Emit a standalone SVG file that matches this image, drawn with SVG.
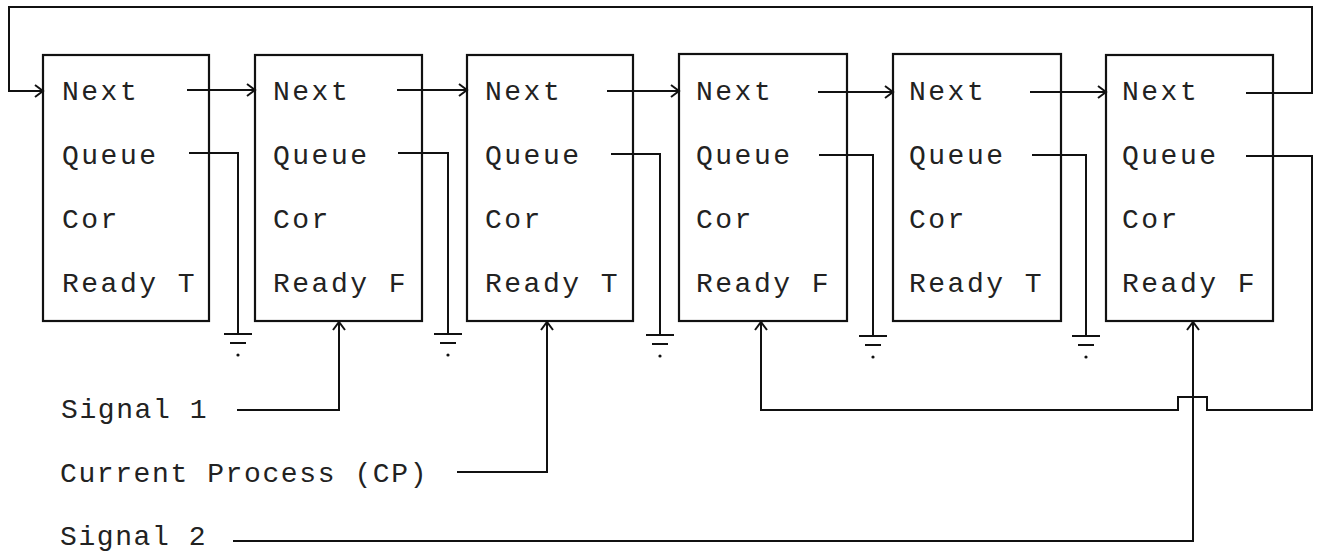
<svg xmlns="http://www.w3.org/2000/svg" width="1323" height="553" viewBox="0 0 1323 553">
<style>
.box{fill:none;stroke:#111;stroke-width:2.2}
.ln{fill:none;stroke:#111;stroke-width:2;stroke-linejoin:miter}
.t{font-family:"Liberation Mono","Courier New",monospace;font-size:28px;letter-spacing:2.5px;fill:#222}
.s{font-family:"Liberation Mono","Courier New",monospace;font-size:28px;letter-spacing:1.6px;fill:#222}
.dot{fill:#111}
</style>
<defs>
<marker id="ar" markerUnits="userSpaceOnUse" markerWidth="14" markerHeight="16" refX="10" refY="7" orient="auto">
<path d="M2,1 L10,7 L2,13" fill="none" stroke="#111" stroke-width="2"/>
</marker>
<g id="gnd">
<path class="ln" d="M-14,0 H14 M-8,9 H8"/>
<circle class="dot" cx="0" cy="21" r="1.6"/>
</g>
</defs>
<rect width="1323" height="553" fill="#fff"/>

<g id="connectors">
<path class="ln" d="M1246,93 H1312 V7 H9 V91 H43" marker-end="url(#ar)"/>
<path class="ln" d="M187,90 H255" marker-end="url(#ar)"/>
<path class="ln" d="M397,90 H467" marker-end="url(#ar)"/>
<path class="ln" d="M607,91 H679" marker-end="url(#ar)"/>
<path class="ln" d="M818,92 H893" marker-end="url(#ar)"/>
<path class="ln" d="M1030,92 H1106" marker-end="url(#ar)"/>
<path class="ln" d="M189,153 H238 V334"/>
<use href="#gnd" x="238" y="334"/>
<path class="ln" d="M398,153 H448 V334"/>
<use href="#gnd" x="448" y="334"/>
<path class="ln" d="M611,154 H660 V335"/>
<use href="#gnd" x="660" y="335"/>
<path class="ln" d="M819,155 H873 V336"/>
<use href="#gnd" x="873" y="336"/>
<path class="ln" d="M1032,155 H1086 V336"/>
<use href="#gnd" x="1086" y="336"/>
<path class="ln" d="M1246,156 H1312 V410 H1207 V397 H1178 V410 H761 V322" marker-end="url(#ar)"/>
<path class="ln" d="M237,410 H339 V322" marker-end="url(#ar)"/>
<path class="ln" d="M457,472 H547 V322" marker-end="url(#ar)"/>
<path class="ln" d="M233,541 H1193 V322" marker-end="url(#ar)"/>
</g>

<g id="node1">
<rect class="box" x="43" y="55" width="166" height="266"/>
<text class="t" x="62" y="100">Next</text>
<text class="t" x="62" y="164">Queue</text>
<text class="t" x="62" y="228">Cor</text>
<text class="t" x="62" y="292">Ready T</text>
</g>
<g id="node2">
<rect class="box" x="255" y="55" width="167" height="266"/>
<text class="t" x="273" y="100">Next</text>
<text class="t" x="273" y="164">Queue</text>
<text class="t" x="273" y="228">Cor</text>
<text class="t" x="273" y="292">Ready F</text>
</g>
<g id="node3">
<rect class="box" x="467" y="55" width="166" height="266"/>
<text class="t" x="485" y="100">Next</text>
<text class="t" x="485" y="164">Queue</text>
<text class="t" x="485" y="228">Cor</text>
<text class="t" x="485" y="292">Ready T</text>
</g>
<g id="node4">
<rect class="box" x="679" y="54" width="168" height="267"/>
<text class="t" x="696" y="100">Next</text>
<text class="t" x="696" y="164">Queue</text>
<text class="t" x="696" y="228">Cor</text>
<text class="t" x="696" y="292">Ready F</text>
</g>
<g id="node5">
<rect class="box" x="893" y="54" width="168" height="267"/>
<text class="t" x="909" y="100">Next</text>
<text class="t" x="909" y="164">Queue</text>
<text class="t" x="909" y="228">Cor</text>
<text class="t" x="909" y="292">Ready T</text>
</g>
<g id="node6">
<rect class="box" x="1106" y="55" width="167" height="266"/>
<text class="t" x="1122" y="100">Next</text>
<text class="t" x="1122" y="164">Queue</text>
<text class="t" x="1122" y="228">Cor</text>
<text class="t" x="1122" y="292">Ready F</text>
</g>

<g id="signal1"><text class="s" x="61" y="418">Signal 1</text></g>
<g id="cp"><text class="s" x="60" y="482">Current Process (CP)</text></g>
<g id="signal2"><text class="s" x="60" y="545">Signal 2</text></g>
</svg>
